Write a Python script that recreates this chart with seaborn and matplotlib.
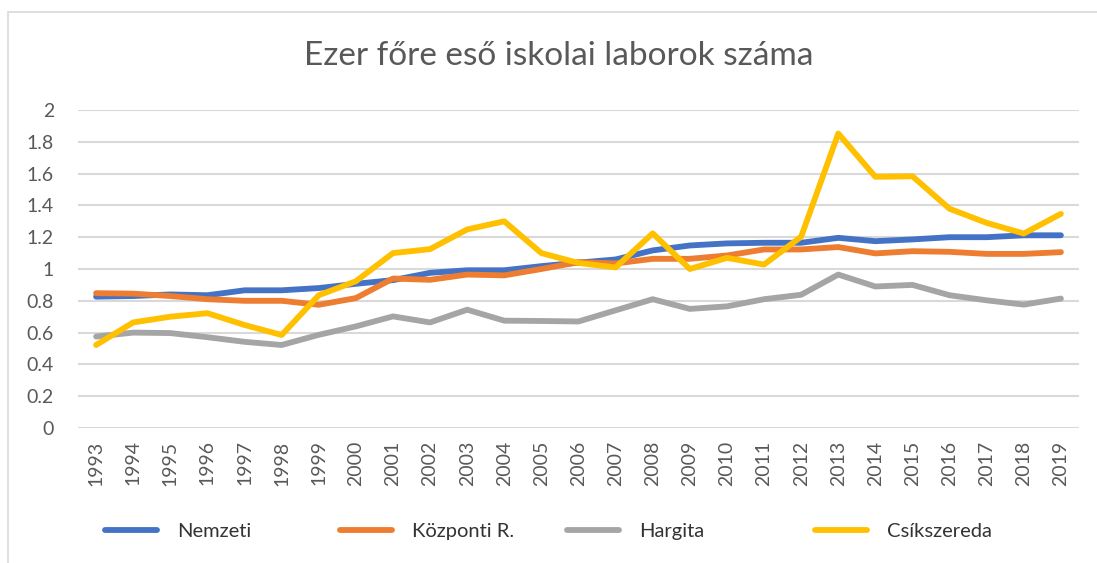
import matplotlib
matplotlib.use("Agg")
import matplotlib.pyplot as plt
from matplotlib.lines import Line2D
from matplotlib.patches import Rectangle
import numpy as np
import pandas as pd
import seaborn as sns

# Series: school laboratories per thousand inhabitants
years = [str(y) for y in range(1993, 2020)]
nemzeti = [0.826, 0.83, 0.84, 0.835, 0.866, 0.866, 0.88, 0.907, 0.93, 0.976,
           0.992, 0.992, 1.018, 1.04, 1.06, 1.117, 1.148, 1.161, 1.165, 1.165,
           1.196, 1.175, 1.186, 1.2, 1.2, 1.212, 1.212]
kozponti = [0.848, 0.845, 0.83, 0.81, 0.80, 0.80, 0.775, 0.817, 0.94, 0.932,
            0.965, 0.96, 1.0, 1.043, 1.035, 1.064, 1.064, 1.085, 1.123, 1.123,
            1.138, 1.098, 1.112, 1.108, 1.095, 1.095, 1.106]
hargita = [0.575, 0.60, 0.597, 0.571, 0.542, 0.522, 0.586, 0.639, 0.702, 0.664,
           0.744, 0.675, 0.673, 0.67, 0.74, 0.81, 0.749, 0.765, 0.81, 0.838,
           0.965, 0.89, 0.90, 0.835, 0.803, 0.776, 0.814]
csikszereda = [0.522, 0.664, 0.70, 0.722, 0.648, 0.585, 0.835, 0.923, 1.10, 1.125,
               1.249, 1.30, 1.10, 1.038, 1.01, 1.224, 1.0, 1.07, 1.028, 1.203,
               1.852, 1.58, 1.583, 1.379, 1.29, 1.223, 1.347]
series_names = ["Nemzeti", "Központi R.", "Hargita", "Csíkszereda"]
colors = ["#4472C4", "#ED7D31", "#A5A5A5", "#FFC000"]
y_ticks = [0, 0.2, 0.4, 0.6, 0.8, 1, 1.2, 1.4, 1.6, 1.8, 2]
y_tick_labels = ["0", "0.2", "0.4", "0.6", "0.8", "1", "1.2", "1.4", "1.6", "1.8", "2"]
title = "Ezer főre eső iskolai laborok száma"

records = []
for name, vals in zip(series_names, [nemzeti, kozponti, hargita, csikszereda]):
    for i, v in enumerate(vals):
        records.append({"pos": i, "year": years[i], "value": v, "series": name})
df = pd.DataFrame(records)

sns.set_theme(style="white")
plt.rcParams["font.family"] = ["Lato", "DejaVu Sans"]

fig = plt.figure(figsize=(10.97, 5.63), dpi=100)
ax = fig.add_axes([0.0707, 0.2398, 0.9133, 0.5648])

sns.lineplot(data=df, x="pos", y="value", hue="series", hue_order=series_names,
             palette=colors, linewidth=4.2, ax=ax, legend=False, sort=False)
for ln in ax.lines:
    ln.set_solid_capstyle("round")
    ln.set_solid_joinstyle("round")

ax.set_xlim(-0.5, len(years) - 0.5)
ax.set_ylim(0, 2)
ax.set_yticks(y_ticks)
ax.set_yticklabels(y_tick_labels)
ax.set_xticks(range(len(years)))
ax.set_xticklabels(years, rotation=90)
ax.tick_params(axis="y", length=0, pad=17, labelsize=14, labelcolor="#595959")
ax.tick_params(axis="x", length=0, pad=9, labelsize=14, labelcolor="#595959")
ax.set_xlabel("")
ax.set_ylabel("")
for s in ax.spines.values():
    s.set_visible(False)
ax.yaxis.grid(True, color="#D9D9D9", linewidth=1.5)
ax.set_axisbelow(True)

fig.text(0.509, 1 - 56 / 563, title, ha="center", va="center",
         fontsize=24, color="#595959", fontweight="normal")

# legend: one equally spaced column per series
legend_x = [105, 340, 567, 815]
for name, col, lx in zip(series_names, colors, legend_x):
    h = Line2D([], [], color=col, linewidth=4.2, solid_capstyle="round")
    lg = fig.legend([h], [name], loc="center left",
                    bbox_to_anchor=(lx / 1097, 1 - 531 / 563),
                    frameon=False, fontsize=14.5, handlelength=2.6,
                    handletextpad=1.0, borderaxespad=0, borderpad=0)
    for t in lg.get_texts():
        t.set_color("#333333")

# chart-area frame
fig.patches.append(Rectangle((8 / 1097, -0.1), 1.2, 1 - 12 / 563 + 0.1,
                             transform=fig.transFigure, fill=False,
                             edgecolor="#D9D9D9", linewidth=1.2))

fig.savefig("out.png", dpi=100)
